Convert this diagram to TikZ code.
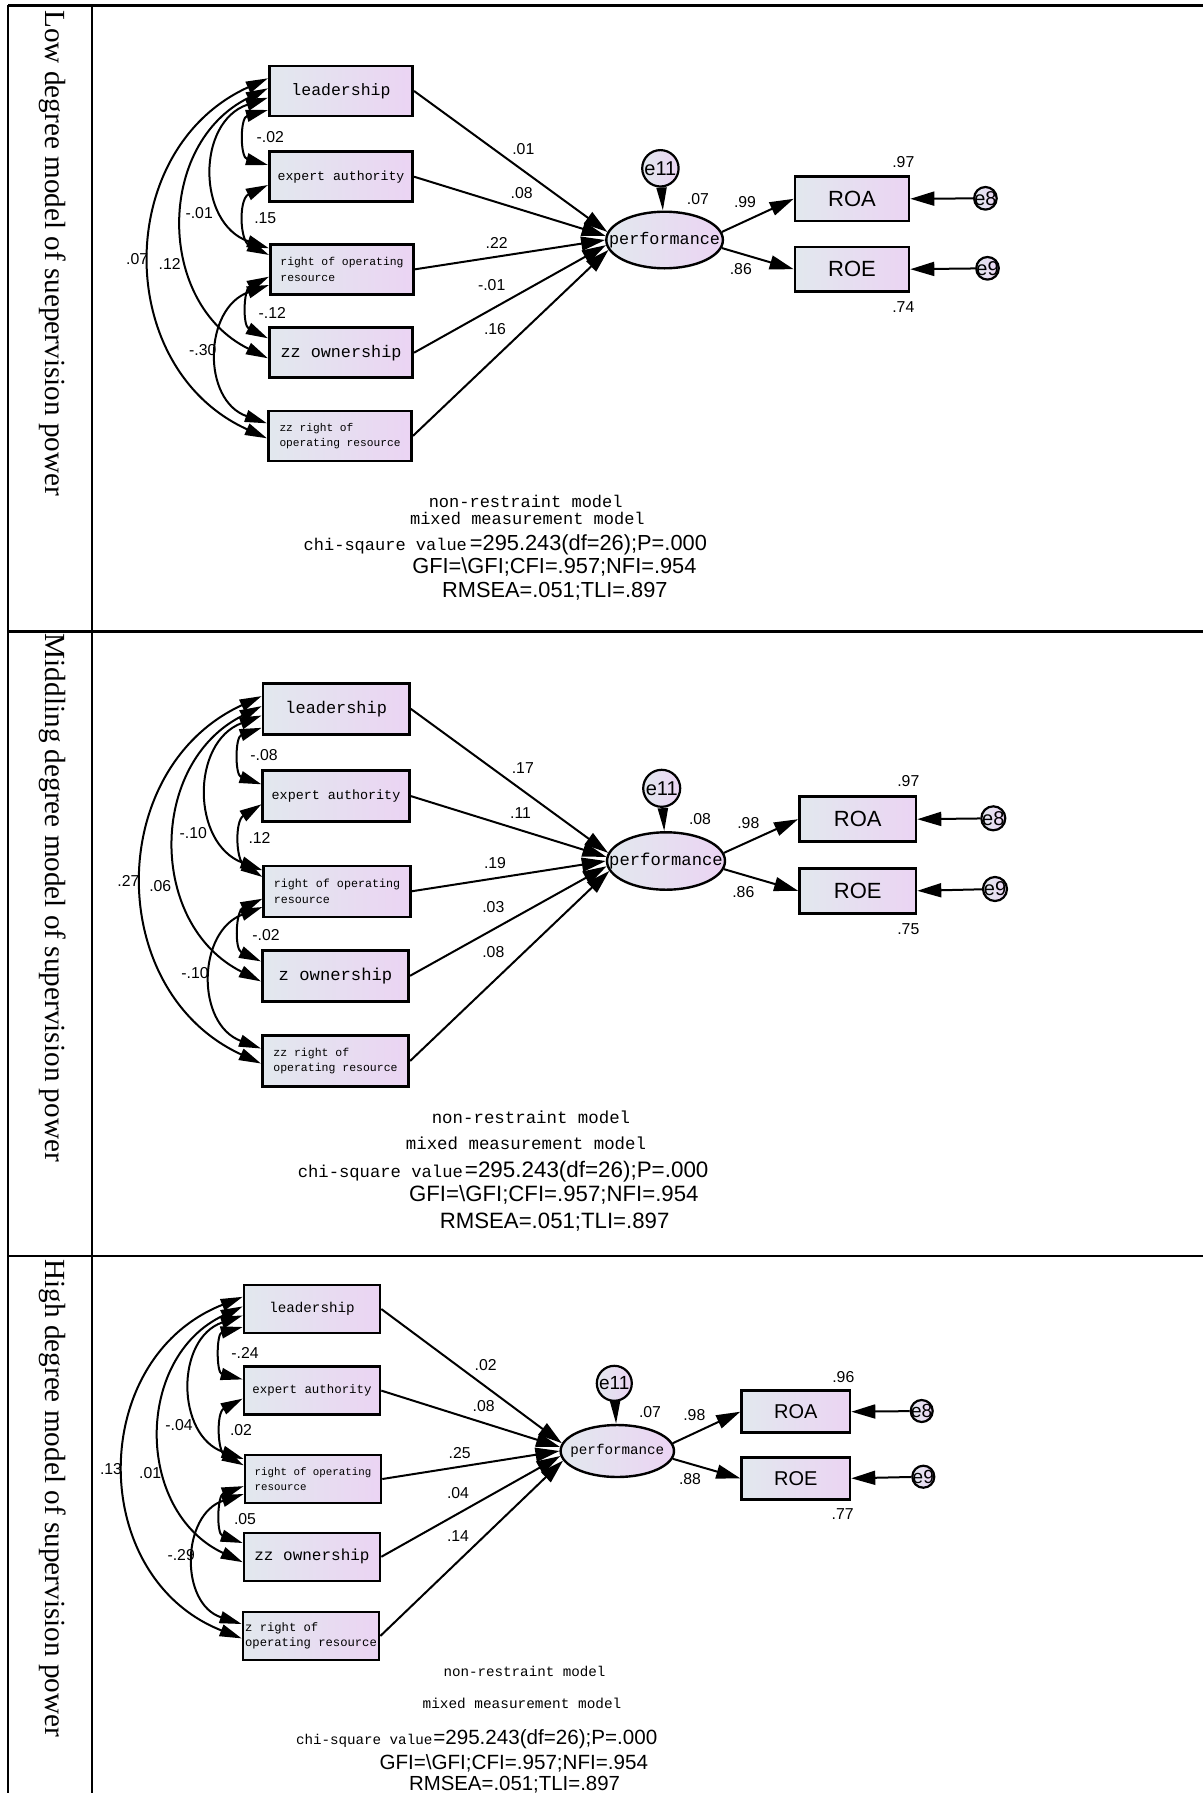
\documentclass[tikz,border=0pt]{standalone}
\usepackage{fontspec}
\setmainfont{Liberation Serif}
\setsansfont{Liberation Sans}
\setmonofont{Liberation Mono}
\usepackage{tikz}
\usetikzlibrary{arrows.meta,shapes.geometric,calc}

\definecolor{boxleft}{RGB}{226,232,238}
\definecolor{boxright}{RGB}{235,212,243}

\tikzset{
  obsbox/.style={draw, line width=1.3pt, left color=boxleft, right color=boxright, inner sep=0pt, align=left},
  boxa/.style={obsbox, minimum width=71.75pt, minimum height=25pt},
  boxb/.style={obsbox, minimum width=73.25pt, minimum height=25.5pt},
  boxc/.style={obsbox, minimum width=68pt, minimum height=24pt},
  latent/.style={ellipse, draw, line width=1.2pt, left color=boxleft, right color=boxright, inner sep=0pt},
  errc/.style={circle, draw, line width=1.1pt, left color=boxleft, right color=boxright, inner sep=0pt},
  regpath/.style={line width=1pt, -{Triangle[length=12pt,width=7pt]}},
  errpath/.style={line width=1pt, -{Triangle[length=11.5pt,width=5pt]}},
  cov/.style={line width=1pt, {Triangle[length=11pt,width=6pt]}-{Triangle[length=11pt,width=6pt]}},
  coef/.style={inner sep=0pt, font=\sffamily\fontsize{7.9}{9}\selectfont},
  monotxt/.style={inner sep=0pt, font=\ttfamily\fontsize{#1}{7.7}\selectfont},
  sanstxt/.style={inner sep=0pt, font=\sffamily\fontsize{#1}{#1}\selectfont},
  rowlabel/.style={inner sep=0pt, rotate=-90, anchor=base west, font=\rmfamily\fontsize{14.6}{16}\selectfont},
  tabline/.style={line width=1.15pt}
}

\begin{document}
\begin{tikzpicture}[x=0.5pt,y=0.5pt,yscale=-1,xscale=1]
\useasboundingbox (0,0) rectangle (1203,1793);

% table frame
\draw[tabline] (8,5.5) -- (1203,5.5);
\draw[tabline] (8,631.5) -- (1203,631.5);
\draw[tabline] (8,1256) -- (1203,1256);
\draw[tabline] (8,5.5) -- (8,1793);
\draw[tabline] (92,5.5) -- (92,1793);

\node[rowlabel] (low) at (46,10) {Low degree model of suepervision power};
\node[rowlabel] (mid) at (46,633.5) {Middling degree model of supervision power};
\node[rowlabel] (high) at (46,1259) {High degree model of supervision power};

% low degree
\node[boxa, monotxt=8.25] (lead1) at (341,91) {leadership};
\node[boxa, monotxt=6.6] (exp1) at (341,176.7) {expert authority};
\node[boxa, monotxt=5.7] (rop1) at (342,269.3) {right of operating\\resource};
\node[boxa, monotxt=8.4] (own1) at (341,352.7) {zz ownership};
\node[boxa, monotxt=5.6] (zzr1) at (340,435.8) {zz right of\\operating resource};
\node[latent, minimum width=58.3pt, minimum height=28.3pt, monotxt=8.4] (perf1) at (664.6,240) {\makebox[0pt]{performance}};
\node[errc, minimum size=18.2pt, sanstxt=10] (e11a) at (660.4,168.3) {\makebox[0pt]{e11}};
\node[obsbox, minimum width=57pt, minimum height=22.2pt, sanstxt=11] (roa1) at (852,198.8) {ROA};
\node[obsbox, minimum width=57pt, minimum height=22.2pt, sanstxt=11] (roe1) at (852,269.2) {ROE};
\node[errc, minimum size=11.3pt, sanstxt=10] (e8a) at (985.4,198.3) {\makebox[0pt]{e8}};
\node[errc, minimum size=11.3pt, sanstxt=10] (e9a) at (987.5,268.3) {\makebox[0pt]{e9}};

\draw[regpath] (lead1.east) -- (perf1.172);
\draw[regpath] (exp1.east) -- (perf1.176);
\draw[regpath] (rop1.east) -- (perf1.180);
\draw[regpath] (own1.east) -- (perf1.185);
\draw[regpath] (zzr1.east) -- (perf1.190);
\draw[errpath] (e11a) -- (perf1);
\draw[regpath] (perf1.8) -- (roa1.west);
\draw[regpath] (perf1.-8) -- (roe1.west);
\draw[regpath] (e8a) -- (roa1.east);
\draw[regpath] (e9a) -- (roe1.east);

\draw[cov] ($(lead1.west)+(0,19)$) .. controls +(-28,7.7) and +(-28,-7.7) .. ($(exp1.west)+(0,-11.7)$);
\draw[cov] ($(exp1.west)+(0,8.3)$) .. controls +(-29.4,14.1) and +(-29.4,-14.1) .. ($(rop1.west)+(0,-14.3)$);
\draw[cov] ($(rop1.west)+(0,7.4)$) .. controls +(-25.4,12.8) and +(-25.4,-12.8) .. ($(own1.west)+(0,-14.4)$);
\draw[cov] ($(lead1.west)+(0,6.7)$) .. controls +(-72,24.4) and +(-72,-24.4) .. ($(rop1.west)+(0,-21)$);
\draw[cov] ($(lead1.west)+(0,-2.7)$) .. controls +(-112,55.1) and +(-112,-55.1) .. ($(own1.west)+(0,5.6)$);
\draw[cov] ($(lead1.west)+(0,-12.7)$) .. controls +(-154.7,70.1) and +(-154.7,-70.1) .. ($(zzr1.west)+(0,2.5)$);
\draw[cov] ($(rop1.west)+(0,15.7)$) .. controls +(-65.4,23) and +(-65.4,-23) .. ($(zzr1.west)+(0,-12.5)$);

\node[coef] (k1a) at (523.3,149.3) {.01};
\node[coef] (k1b) at (521.7,192.7) {.08};
\node[coef] (k1c) at (496.7,242.7) {.22};
\node[coef] (k1d) at (491.7,285) {-.01};
\node[coef] (k1e) at (495,329.3) {.16};
\node[coef] (c1a) at (270.3,136.7) {-.02};
\node[coef] (c1b) at (265.3,218.3) {.15};
\node[coef] (c1c) at (272.3,312.7) {-.12};
\node[coef] (c1d) at (199.2,212.7) {-.01};
\node[coef] (c1e) at (169.7,264.3) {.12};
\node[coef] (c1f) at (137.2,259) {.07};
\node[coef] (c1g) at (202.8,350) {-.30};
\node[coef] (r1a) at (697.9,199.3) {.07};
\node[coef] (r1b) at (745,201.7) {.99};
\node[coef] (r1c) at (740.8,269.3) {.86};
\node[coef] (r1d) at (903.3,161.7) {.97};
\node[coef] (r1e) at (903.3,306.7) {.74};

\node[monotxt=8.5] (nr1) at (525.7,501.7) {non-restraint model};
\node[monotxt=8.5] (mm1) at (527.4,518.3) {mixed measurement model};
\node[anchor=west, inner sep=0pt] (chi1) at (303.3,545.3) {{\ttfamily\fontsize{8.5}{10}\selectfont chi-sqaure value}\kern1.5pt{\sffamily\fontsize{10.9}{12}\selectfont =295.243(df=26);P=.000}};
\node[sanstxt=10.9] (gfi1) at (554.4,567.3) {GFI=\textbackslash GFI;CFI=.957;NFI=.954};
\node[sanstxt=10.9] (rmsea1) at (554.8,591.7) {RMSEA=.051;TLI=.897};

% middling degree
\node[boxb, monotxt=8.45] (lead2) at (336.2,708.8) {leadership};
\node[boxb, monotxt=6.7] (exp2) at (336,796) {expert authority};
\node[boxb, monotxt=5.85] (rop2) at (337,891.3) {right of operating\\resource};
\node[boxb, monotxt=8.6] (own2) at (335.5,975.8) {z ownership};
\node[boxb, monotxt=5.75] (zzr2) at (335.5,1061) {zz right of\\operating resource};
\node[latent, minimum width=59pt, minimum height=28.7pt, monotxt=8.6] (perf2) at (666,861) {\makebox[0pt]{performance}};
\node[errc, minimum size=18.5pt, sanstxt=10] (e11b) at (661.7,788.3) {\makebox[0pt]{e11}};
\node[obsbox, minimum width=58.3pt, minimum height=22.5pt, sanstxt=11] (roa2) at (857.7,819.2) {ROA};
\node[obsbox, minimum width=58.3pt, minimum height=22.5pt, sanstxt=11] (roe2) at (857.7,890.8) {ROE};
\node[errc, minimum size=12pt, sanstxt=10] (e8b) at (993.3,818.3) {\makebox[0pt]{e8}};
\node[errc, minimum size=12pt, sanstxt=10] (e9b) at (995,889) {\makebox[0pt]{e9}};

\draw[regpath] (lead2.east) -- (perf2.172);
\draw[regpath] (exp2.east) -- (perf2.176);
\draw[regpath] (rop2.east) -- (perf2.180);
\draw[regpath] (own2.east) -- (perf2.185);
\draw[regpath] (zzr2.east) -- (perf2.190);
\draw[errpath] (e11b) -- (perf2);
\draw[regpath] (perf2.8) -- (roa2.west);
\draw[regpath] (perf2.-8) -- (roe2.west);
\draw[regpath] (e8b) -- (roa2.east);
\draw[regpath] (e9b) -- (roe2.east);

\draw[cov] ($(lead2.west)+(0,19)$) .. controls +(-26.6,9.3) and +(-26.6,-9.3) .. ($(exp2.west)+(0,-11.7)$);
\draw[cov] ($(exp2.west)+(0,8.3)$) .. controls +(-26.7,16.9) and +(-26.7,-16.9) .. ($(rop2.west)+(0,-14.3)$);
\draw[cov] ($(rop2.west)+(0,7.4)$) .. controls +(-26.7,12.4) and +(-26.7,-12.4) .. ($(own2.west)+(0,-14.4)$);
\draw[cov] ($(lead2.west)+(0,6.7)$) .. controls +(-71,27) and +(-71,-27) .. ($(rop2.west)+(0,-21)$);
\draw[cov] ($(lead2.west)+(0,-2.7)$) .. controls +(-113.4,56.8) and +(-113.4,-56.8) .. ($(own2.west)+(0,5.6)$);
\draw[cov] ($(lead2.west)+(0,-12.7)$) .. controls +(-156.8,72) and +(-156.8,-72) .. ($(zzr2.west)+(0,2.5)$);
\draw[cov] ($(rop2.west)+(0,15.7)$) .. controls +(-65.3,24.6) and +(-65.3,-24.6) .. ($(zzr2.west)+(0,-12.5)$);

\node[coef] (k2a) at (522.8,768.3) {.17};
\node[coef] (k2b) at (520.5,813.3) {.11};
\node[coef] (k2c) at (495,863.3) {.19};
\node[coef] (k2d) at (493.3,907.3) {.03};
\node[coef] (k2e) at (493.3,952.3) {.08};
\node[coef] (c2a) at (264,755) {-.08};
\node[coef] (c2b) at (259.5,838.3) {.12};
\node[coef] (c2c) at (266,935) {-.02};
\node[coef] (c2d) at (193.3,833.3) {-.10};
\node[coef] (c2e) at (160.3,885.7) {.06};
\node[coef] (c2f) at (128.4,881) {.27};
\node[coef] (c2g) at (195,973.3) {-.10};
\node[coef] (r2a) at (700,819) {.08};
\node[coef] (r2b) at (748.3,822.7) {.98};
\node[coef] (r2c) at (743.3,891.7) {.86};
\node[coef] (r2d) at (908.3,780.7) {.97};
\node[coef] (r2e) at (908.3,929.3) {.75};

\node[monotxt=8.7] (nr2) at (531,1117.3) {non-restraint model};
\node[monotxt=8.7] (mm2) at (526,1143.3) {mixed measurement model};
\node[anchor=west, inner sep=0pt] (chi2) at (297.4,1171.3) {{\ttfamily\fontsize{8.6}{10}\selectfont chi-square value}\kern1pt{\sffamily\fontsize{11.2}{12}\selectfont =295.243(df=26);P=.000}};
\node[sanstxt=11.1] (gfi2) at (553.8,1195) {GFI=\textbackslash GFI;CFI=.957;NFI=.954};
\node[sanstxt=11.1] (rmsea2) at (554.6,1221.7) {RMSEA=.051;TLI=.897};

% high degree
\node[boxc, monotxt=7.1] (lead3) at (312,1309) {leadership};
\node[boxc, monotxt=6.2] (exp3) at (312,1390.6) {expert authority};
\node[boxc, monotxt=5.4] (rop3) at (313,1479) {right of operating\\resource};
\node[boxc, monotxt=8] (own3) at (312,1556.8) {zz ownership};
\node[boxc, monotxt=6.1] (zzr3) at (311,1636) {z right of\\operating resource};
\node[latent, minimum width=56.7pt, minimum height=26pt, monotxt=7.1] (perf3) at (617.3,1451) {\makebox[0pt]{performance}};
\node[errc, minimum size=17.5pt, sanstxt=9.5] (e11c) at (614.3,1383.3) {\makebox[0pt]{e11}};
\node[obsbox, minimum width=54.2pt, minimum height=21pt, sanstxt=10] (roa3) at (795.8,1411.7) {ROA};
\node[obsbox, minimum width=54.2pt, minimum height=21pt, sanstxt=10] (roe3) at (795.8,1478.3) {ROE};
\node[errc, minimum size=11pt, sanstxt=9.5] (e8c) at (921.7,1411) {\makebox[0pt]{e8}};
\node[errc, minimum size=11pt, sanstxt=9.5] (e9c) at (923.3,1476.7) {\makebox[0pt]{e9}};

\draw[regpath] (lead3.east) -- (perf3.172);
\draw[regpath] (exp3.east) -- (perf3.176);
\draw[regpath] (rop3.east) -- (perf3.180);
\draw[regpath] (own3.east) -- (perf3.185);
\draw[regpath] (zzr3.east) -- (perf3.190);
\draw[errpath] (e11c) -- (perf3);
\draw[regpath] (perf3.8) -- (roa3.west);
\draw[regpath] (perf3.-8) -- (roe3.west);
\draw[regpath] (e8c) -- (roa3.east);
\draw[regpath] (e9c) -- (roe3.east);

\draw[cov] ($(lead3.west)+(0,18)$) .. controls +(-26.4,6.7) and +(-26.4,-6.7) .. ($(exp3.west)+(0,-11.2)$);
\draw[cov] ($(exp3.west)+(0,8)$) .. controls +(-26.4,14) and +(-26.4,-14) .. ($(rop3.west)+(0,-13.7)$);
\draw[cov] ($(rop3.west)+(0,7.1)$) .. controls +(-26.4,9.3) and +(-26.4,-9.3) .. ($(own3.west)+(0,-13.8)$);
\draw[cov] ($(lead3.west)+(0,6.4)$) .. controls +(-67.7,23.3) and +(-67.7,-23.3) .. ($(rop3.west)+(0,-20)$);
\draw[cov] ($(lead3.west)+(0,-2.6)$) .. controls +(-108.2,50.9) and +(-108.2,-50.9) .. ($(own3.west)+(0,5.4)$);
\draw[cov] ($(lead3.west)+(0,-12.2)$) .. controls +(-155.3,61.2) and +(-155.3,-61.2) .. ($(zzr3.west)+(0,2.4)$);
\draw[cov] ($(rop3.west)+(0,15)$) .. controls +(-62.4,20.3) and +(-62.4,-20.3) .. ($(zzr3.west)+(0,-12)$);

\node[coef] (k3a) at (485.6,1365) {.02};
\node[coef] (k3b) at (483.6,1406.5) {.08};
\node[coef] (k3c) at (459.6,1452.6) {.25};
\node[coef] (k3d) at (458,1493.4) {.04};
\node[coef] (k3e) at (458,1535.7) {.14};
\node[coef] (c3a) at (245,1352.8) {-.24};
\node[coef] (c3b) at (241,1430) {.02};
\node[coef] (c3c) at (245,1519.4) {.05};
\node[coef] (c3d) at (179,1424.9) {-.04};
\node[coef] (c3e) at (150.2,1472.6) {.01};
\node[coef] (c3f) at (111,1468.8) {.13};
\node[coef] (c3g) at (181.2,1554.7) {-.29};
\node[coef] (r3a) at (650,1411.7) {.07};
\node[coef] (r3b) at (694.3,1415) {.98};
\node[coef] (r3c) at (690,1479) {.88};
\node[coef] (r3d) at (843.3,1376.7) {.96};
\node[coef] (r3e) at (842.7,1514) {.77};

\node[monotxt=7.1] (nr3) at (524.5,1671.7) {non-restraint model};
\node[monotxt=7.2] (mm3) at (522,1703.3) {mixed measurement model};
\node[anchor=west, inner sep=0pt] (chi3) at (295.6,1738.7) {{\ttfamily\fontsize{7.1}{9}\selectfont chi-square value}\kern0.5pt{\sffamily\fontsize{10.3}{12}\selectfont =295.243(df=26);P=.000}};
\node[sanstxt=10.3] (gfi3) at (513.75,1763.3) {GFI=\textbackslash GFI;CFI=.957;NFI=.954};
\node[sanstxt=10.2] (rmsea3) at (514.5,1785) {RMSEA=.051;TLI=.897};

\end{tikzpicture}
\end{document}
